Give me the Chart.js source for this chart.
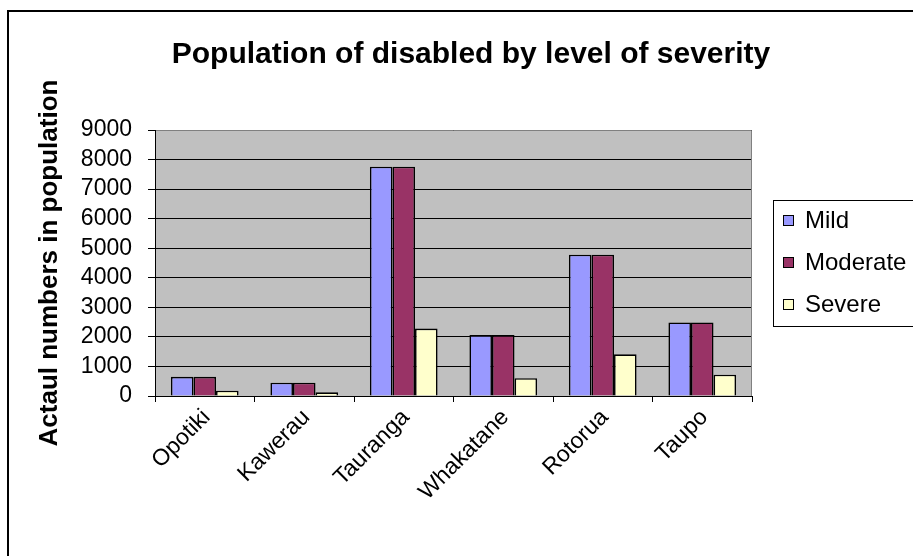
<!DOCTYPE html>
<html>
<head>
<meta charset="utf-8">
<script src="https://cdn.jsdelivr.net/npm/chart.js@4/dist/chart.umd.min.js"></script>
<style>
  html, body { margin: 0; padding: 0; background: #fff; overflow: hidden; }
  #wrap { width: 913px; height: 556px; position: relative; }
</style>
</head>
<body>
<div id="wrap"><canvas id="c" width="913" height="556"></canvas></div>
<script>
// Disabled population by district and severity level
const chartTitle = 'Population of disabled by level of severity';
const yAxisTitle = 'Actaul numbers in population';
const districts = ['Opotiki', 'Kawerau', 'Tauranga', 'Whakatane', 'Rotorua', 'Taupo'];
const mild = [650, 450, 7760, 2060, 4780, 2490];
const moderate = [650, 450, 7760, 2060, 4780, 2490];
const severe = [180, 125, 2280, 600, 1410, 720];
const seriesNames = ['Mild', 'Moderate', 'Severe'];
const seriesColors = ['#9999FF', '#993366', '#FFFFCC'];
const yTickStep = 1000;
const yMax = 9000;

const FONT = '"Liberation Sans", Arial, sans-serif';

// Outer frame, grey plot background and the plot's grey top/right edges
const framePlugin = {
  id: 'frame',
  beforeDraw(chart) {
    const { ctx, chartArea: a } = chart;
    ctx.save();
    ctx.fillStyle = '#fff';
    ctx.fillRect(0, 0, chart.width, chart.height);
    ctx.strokeStyle = '#000';
    ctx.lineWidth = 2;
    ctx.strokeRect(8, 11, chart.width + 20, chart.height + 20);
    ctx.fillStyle = '#C0C0C0';
    ctx.fillRect(a.left, a.top, a.right - a.left, a.bottom - a.top);
    ctx.restore();
  },
  afterDatasetsDraw(chart) {
    const { ctx, chartArea: a } = chart;
    ctx.save();
    ctx.strokeStyle = '#808080';
    ctx.lineWidth = 1;
    ctx.beginPath();
    ctx.moveTo(a.left + 1, a.top + 0.5);
    ctx.lineTo(a.right - 0.5, a.top + 0.5);
    ctx.lineTo(a.right - 0.5, a.bottom);
    ctx.stroke();
    ctx.restore();
  }
};

// Chart heading
const headingPlugin = {
  id: 'heading',
  afterDraw(chart) {
    const { ctx } = chart;
    ctx.save();
    ctx.fillStyle = '#000';
    ctx.font = 'bold 30px ' + FONT;
    ctx.textAlign = 'center';
    ctx.textBaseline = 'middle';
    ctx.fillText(chartTitle, 471, 55);
    ctx.restore();
  }
};

// Boxed legend to the right of the plot
const boxLegendPlugin = {
  id: 'boxLegend',
  afterDraw(chart) {
    const { ctx } = chart;
    const x = 773.5, y = 200.5, w = 250, h = 126;
    ctx.save();
    ctx.strokeStyle = '#000';
    ctx.lineWidth = 1;
    ctx.strokeRect(x, y, w, h);
    ctx.font = '24px ' + FONT;
    ctx.textBaseline = 'middle';
    ctx.textAlign = 'left';
    chart.data.datasets.forEach((ds, i) => {
      const cy = 221 + i * 42;
      ctx.fillStyle = ds.backgroundColor;
      ctx.fillRect(783.5, cy - 5.5, 10, 10);
      ctx.strokeStyle = '#000';
      ctx.strokeRect(783.5, cy - 5.5, 10, 10);
      ctx.fillStyle = '#000';
      ctx.fillText(ds.label, 805, cy);
    });
    ctx.restore();
  }
};

const seriesData = [mild, moderate, severe];

new Chart(document.getElementById('c'), {
  type: 'bar',
  data: {
    labels: districts,
    datasets: seriesNames.map((name, i) => ({
      label: name,
      data: seriesData[i],
      backgroundColor: seriesColors[i],
      borderColor: '#000',
      borderWidth: 1.6,
      borderSkipped: 'start',
      categoryPercentage: 0.68,
      barPercentage: 1.0
    }))
  },
  options: {
    responsive: false,
    animation: false,
    devicePixelRatio: 1,
    layout: { padding: { top: 130, right: 161, left: 0, bottom: 0 } },
    plugins: {
      legend: { display: false },
      title: { display: false },
      tooltip: { enabled: false }
    },
    scales: {
      x: {
        afterFit(scale) { scale.height = 160; },
        grid: {
          offset: true,
          drawOnChartArea: false,
          color: '#000',
          tickLength: 6,
          lineWidth: 1
        },
        border: { color: '#000', width: 1 },
        ticks: {
          autoSkip: false,
          maxRotation: 45,
          minRotation: 45,
          padding: 2,
          labelOffset: 2,
          color: '#000',
          font: { family: FONT, size: 23 }
        }
      },
      y: {
        min: 0,
        max: yMax,
        afterFit(scale) { scale.width = 155; },
        grid: {
          color: '#000',
          lineWidth: 1,
          tickLength: 7
        },
        border: { color: '#000', width: 1 },
        ticks: {
          stepSize: yTickStep,
          autoSkip: false,
          padding: 16,
          color: '#000',
          font: { family: FONT, size: 23, lineHeight: 1 },
          callback: (v) => String(v)
        },
        title: {
          display: true,
          text: yAxisTitle,
          color: '#000',
          font: { family: FONT, size: 26, weight: 'bold' },
          padding: { top: 34, bottom: 0 }
        }
      }
    }
  },
  plugins: [framePlugin, headingPlugin, boxLegendPlugin]
});
</script>
</body>
</html>
